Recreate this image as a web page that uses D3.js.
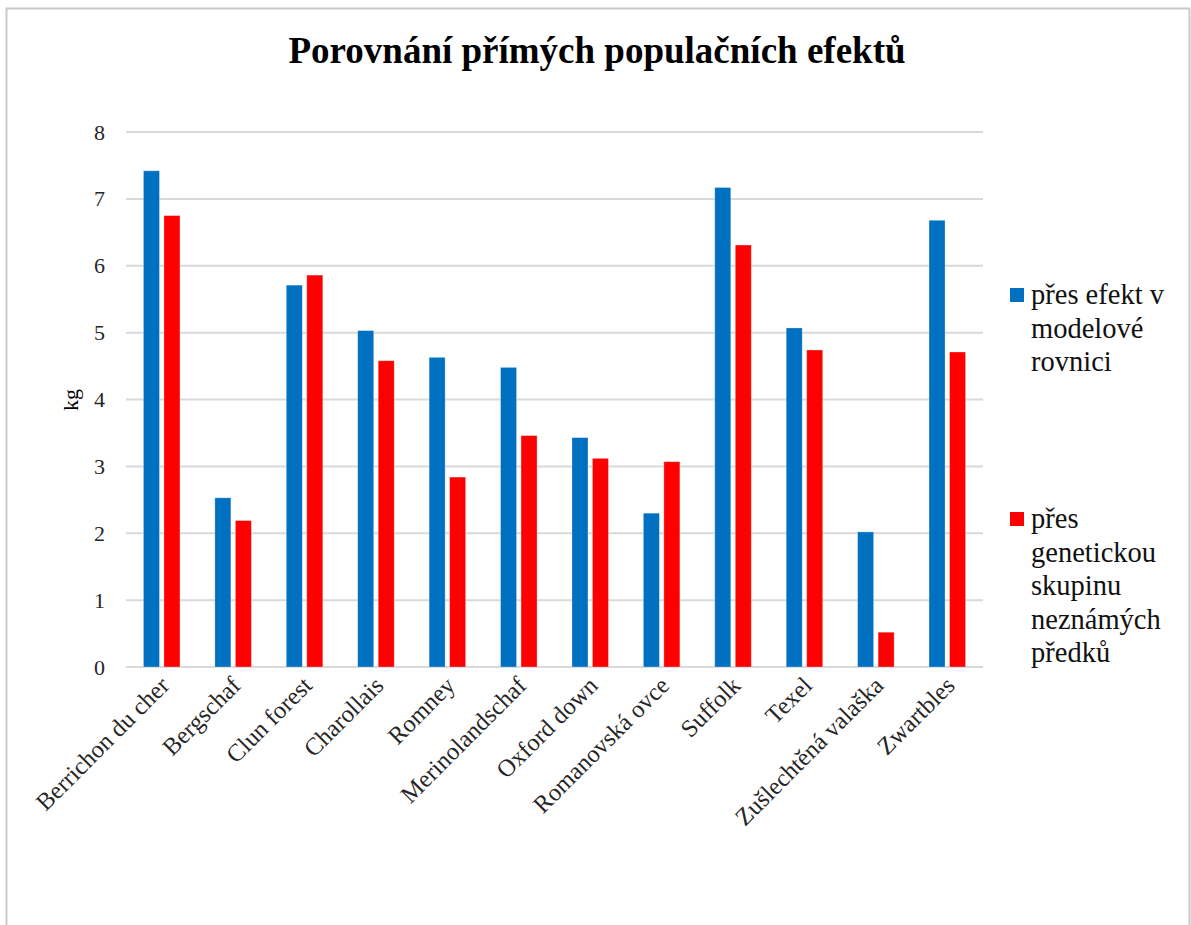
<!DOCTYPE html>
<html>
<head>
<meta charset="utf-8">
<script src="https://cdn.jsdelivr.net/npm/d3@7"></script>
<style>
  html, body { margin: 0; padding: 0; background: #fff; }
  svg { display: block; }
  svg text { font-family: "Liberation Serif", "Times New Roman", serif; }
</style>
</head>
<body>
<script>
const categories = ["Berrichon du cher", "Bergschaf", "Clun forest", "Charollais", "Romney", "Merinolandschaf", "Oxford down", "Romanovská ovce", "Suffolk", "Texel", "Zušlechtěná valaška", "Zwartbles"];
const seriesNames = ["přes efekt v modelové rovnici", "přes genetickou skupinu neznámých předků"];
const seriesModel = [7.42, 2.53, 5.71, 5.03, 4.63, 4.48, 3.43, 2.30, 7.17, 5.07, 2.02, 6.68];
const seriesGroup = [6.75, 2.19, 5.86, 4.58, 2.84, 3.46, 3.12, 3.07, 6.31, 4.74, 0.52, 4.71];
const yTicks = [0, 1, 2, 3, 4, 5, 6, 7, 8];
const legendLines = [["přes efekt v", "modelové", "rovnici"], ["přes", "genetickou", "skupinu", "neznámých", "předků"]];
const colors = ["#0070C0", "#FF0000"];
const title = "Porovnání přímých populačních efektů";
const yLabel = "kg";

const W = 1191, H = 925;
const font = "'Liberation Serif', 'Times New Roman', serif";
const svg = d3.select("body").append("svg").attr("width", W).attr("height", H);

svg.append("rect").attr("x", 0).attr("y", 0).attr("width", W).attr("height", H).attr("fill", "#fff");
svg.append("path").attr("d", `M6.5,940 V8.5 H1189.5 V940`).attr("fill", "none").attr("stroke", "#c9c9c9").attr("stroke-width", 2);

const plot = { left: 126, right: 983, top: 132, bottom: 667 };

const x = d3.scaleBand().domain(categories).range([plot.left, plot.right]).paddingInner(0).paddingOuter(0);
const y = d3.scaleLinear().domain([0, 8]).range([plot.bottom, plot.top]);
const barW = 16, gap = 4.5;
const xs = d3.scaleOrdinal().domain([0, 1]).range([-(barW + gap / 2), gap / 2]);

svg.append("g").selectAll("line").data(yTicks).join("line")
  .attr("x1", plot.left).attr("x2", plot.right)
  .attr("y1", d => y(d)).attr("y2", d => y(d))
  .attr("stroke", "#d9d9d9").attr("stroke-width", 2);

const yAxis = d3.axisLeft(y).tickValues(yTicks).tickSize(0).tickPadding(21).tickFormat(d3.format("d"));
const gy = svg.append("g").attr("transform", `translate(${plot.left},0)`).call(yAxis);
gy.select(".domain").remove();
gy.attr("font-family", null).attr("font-size", null);
gy.selectAll("text").style("font-family", font).style("font-size", "22px").attr("fill", "#262626");

const data = [seriesModel, seriesGroup];
data.forEach((series, si) => {
  svg.append("g").selectAll("rect").data(series).join("rect")
    .attr("x", (d, i) => x(categories[i]) + x.bandwidth() / 2 + xs(si))
    .attr("y", d => y(d))
    .attr("width", barW)
    .attr("height", d => y(0) - y(d))
    .attr("fill", colors[si])
    .attr("stroke", "#ffffff").attr("stroke-opacity", 0.35).attr("stroke-width", 0.8);
});

const xAxis = d3.axisBottom(x).tickSize(0).tickPadding(0);
const gx = svg.append("g").attr("transform", `translate(0,${plot.bottom})`).call(xAxis);
gx.select(".domain").remove();
gx.attr("font-family", null).attr("font-size", null);
gx.selectAll("text")
  .style("font-family", font).style("font-size", "24.5px").attr("fill", "#262626")
  .attr("text-anchor", "end")
  .attr("dy", null).attr("y", 0)
  .attr("transform", "translate(9,20) rotate(-45)");

svg.append("text").attr("transform", `translate(78,400) rotate(-90)`)
  .attr("text-anchor", "middle").style("font-family", font).style("font-size", "22px").attr("fill", "#000")
  .text(yLabel);

svg.append("text").attr("x", 597).attr("y", 63).attr("text-anchor", "middle")
  .style("font-family", font).style("font-size", "37px").attr("font-weight", "bold").attr("fill", "#000")
  .text(title);

const legTop = [288, 512];
legendLines.forEach((lines, si) => {
  const g = svg.append("g");
  g.append("rect").attr("x", 1010).attr("y", legTop[si]).attr("width", 14).attr("height", 14).attr("fill", colors[si]);
  g.selectAll("text").data(lines).join("text")
    .attr("x", 1031).attr("y", (d, i) => legTop[si] + 16 + i * 33.5)
    .style("font-family", font).style("font-size", "28.5px").attr("fill", "#111")
    .text(d => d);
});
</script>
</body>
</html>
